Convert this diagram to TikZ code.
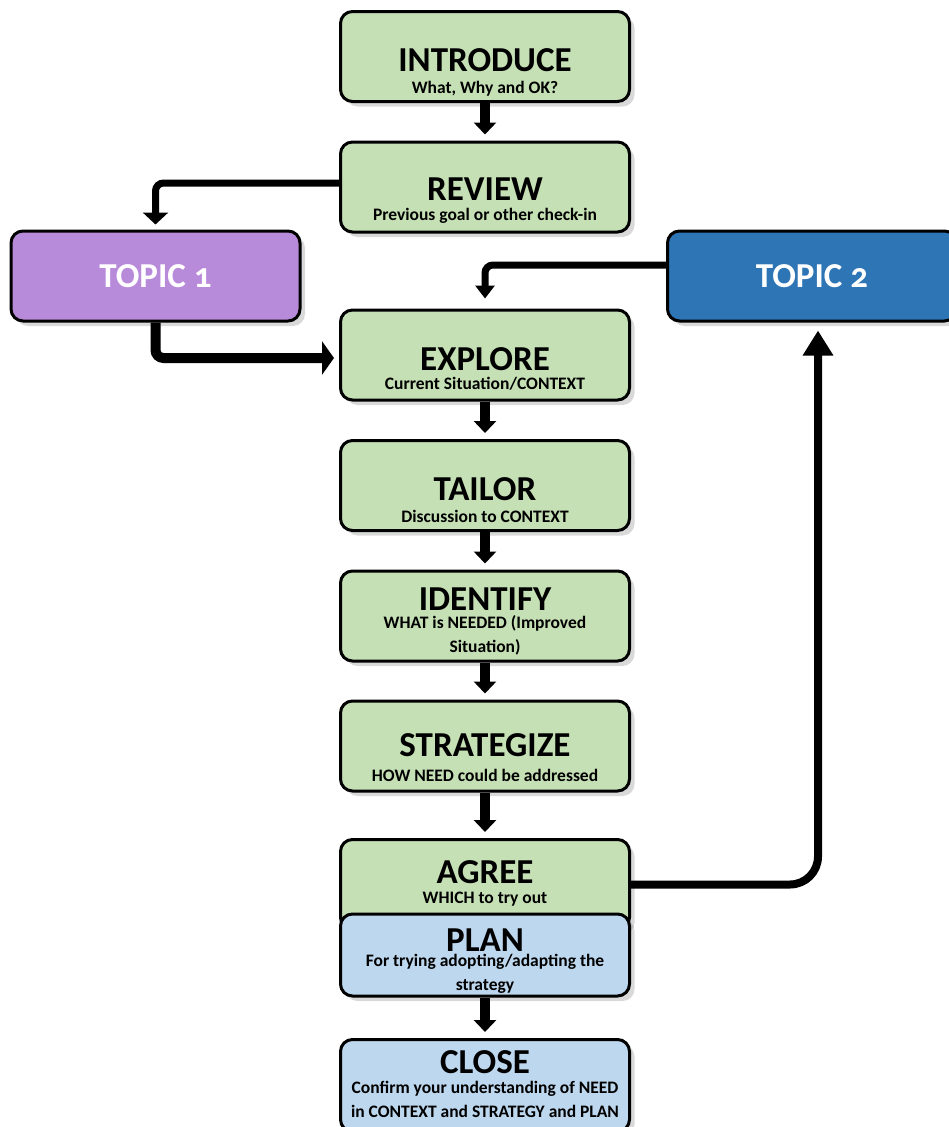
\documentclass[tikz,border=0pt]{standalone}
\usepackage{fontspec}
\setmainfont{Carlito}
\usetikzlibrary{arrows.meta,shadows}
\definecolor{boxgreen}{HTML}{C5E0B4}
\definecolor{boxblue}{HTML}{BDD7EE}
\definecolor{topicpurple}{HTML}{B88BDA}
\definecolor{topicblue}{HTML}{2E75B6}
\tikzset{
  stagebox/.style={draw=black, line width=3pt, rounded corners=12pt, fill=boxgreen,
    minimum width=289pt, minimum height=90pt, inner sep=0pt,
    drop shadow={opacity=0.3, shadow xshift=5pt, shadow yshift=-5pt}},
  planbox/.style={stagebox, fill=boxblue},
  topicbox/.style={stagebox, text=white, font=\bfseries\fontsize{35}{36}\selectfont},
  titletext/.style={anchor=base, inner sep=0pt, font=\bfseries\fontsize{35}{36}\selectfont},
  subtext/.style={anchor=base, inner sep=0pt, align=center, font=\bfseries\fontsize{17.5}{23.5}\selectfont},
  blockarrow/.style={line width=10pt, -{Triangle[width=22pt,length=12pt]}, shorten >=6pt},
  elbow/.style={line width=7pt, rounded corners=8pt}
}
\begin{document}
\begin{tikzpicture}[x=1pt,y=-1pt]
\useasboundingbox (0,0) rectangle (948,1127);
% main boxes
\node[stagebox] (intro) at (485,56.5) {};
\node[stagebox] (review) at (485,187) {};
\node[stagebox] (explore) at (485,355) {};
\node[stagebox] (tailor) at (485,485.5) {};
\node[stagebox] (identify) at (485,616) {};
\node[stagebox] (strat) at (485,746) {};
\node[stagebox] (agree) at (485,884.5) {};
\node[planbox, minimum height=82pt] (plan) at (485,955) {};
\node[planbox, minimum height=92pt] (close) at (485,1085.5) {};
\node[topicbox, fill=topicpurple] (topic1) at (155.5,276) {TOPIC {\addfontfeature{Numbers=OldStyle}1}};
\node[topicbox, fill=topicblue] (topic2) at (812,276) {TOPIC {\addfontfeature{Numbers=OldStyle}2}};
% texts
\node[titletext] (introT) at (485,71) {INTRODUCE};
\node[subtext] (introS) at (485,93) {What, Why and OK?};
\node[titletext] (reviewT) at (485,200) {REVIEW};
\node[subtext] (reviewS) at (485,220) {Previous goal or other check-in};
\node[titletext] (exploreT) at (485,370) {EXPLORE};
\node[subtext] (exploreS) at (485,389) {Current Situation/CONTEXT};
\node[titletext] (tailorT) at (485,500) {TAILOR};
\node[subtext] (tailorS) at (485,522) {Discussion to CONTEXT};
\node[titletext] (identifyT) at (485,610) {IDENTIFY};
\node[subtext] (identifyS) at (485,652) {WHAT is NEEDED (Improved\\Situation)};
\node[titletext] (stratT) at (485,756) {STRATEGIZE};
\node[subtext] (stratS) at (485,781) {HOW NEED could be addressed};
\node[titletext] (agreeT) at (485,883) {AGREE};
\node[subtext] (agreeS) at (485,903) {WHICH to try out};
\node[titletext] (planT) at (485,951) {PLAN};
\node[subtext] (planS) at (485,990) {For trying adopting/adapting the\\strategy};
\node[titletext] (closeT) at (485,1073) {CLOSE};
\node[subtext] (closeS) at (485,1117) {Confirm your understanding of NEED\\in CONTEXT and STRATEGY and PLAN};
% block arrows
\draw[blockarrow] (intro.south) -- (review.north);
\draw[blockarrow] (explore.south) -- (tailor.north);
\draw[blockarrow] (tailor.south) -- (identify.north);
\draw[blockarrow] (identify.south) -- (strat.north);
\draw[blockarrow] (strat.south) -- (agree.north);
\draw[blockarrow] (plan.south) -- (close.north);
% elbow connectors
\draw[elbow, -{Triangle[width=25pt,length=12pt]}, shorten >=5pt]
  ([yshift=4pt]review.west) -| (topic1.north);
\draw[elbow, line width=10pt, -{Triangle[width=33pt,length=12pt]}, shorten >=5pt]
  (topic1.south) |- ([yshift=-3pt]explore.west);
\draw[elbow, -{Triangle[width=19pt,length=13pt]}, shorten >=10pt]
  ([yshift=11pt]topic2.west) -| (explore.north);
\draw[elbow, line width=8pt, rounded corners=28pt, -{Triangle[width=29pt,length=25pt]}, shorten >=8pt]
  (agree.east) -| ([xshift=6pt]topic2.south);
\end{tikzpicture}
\end{document}
